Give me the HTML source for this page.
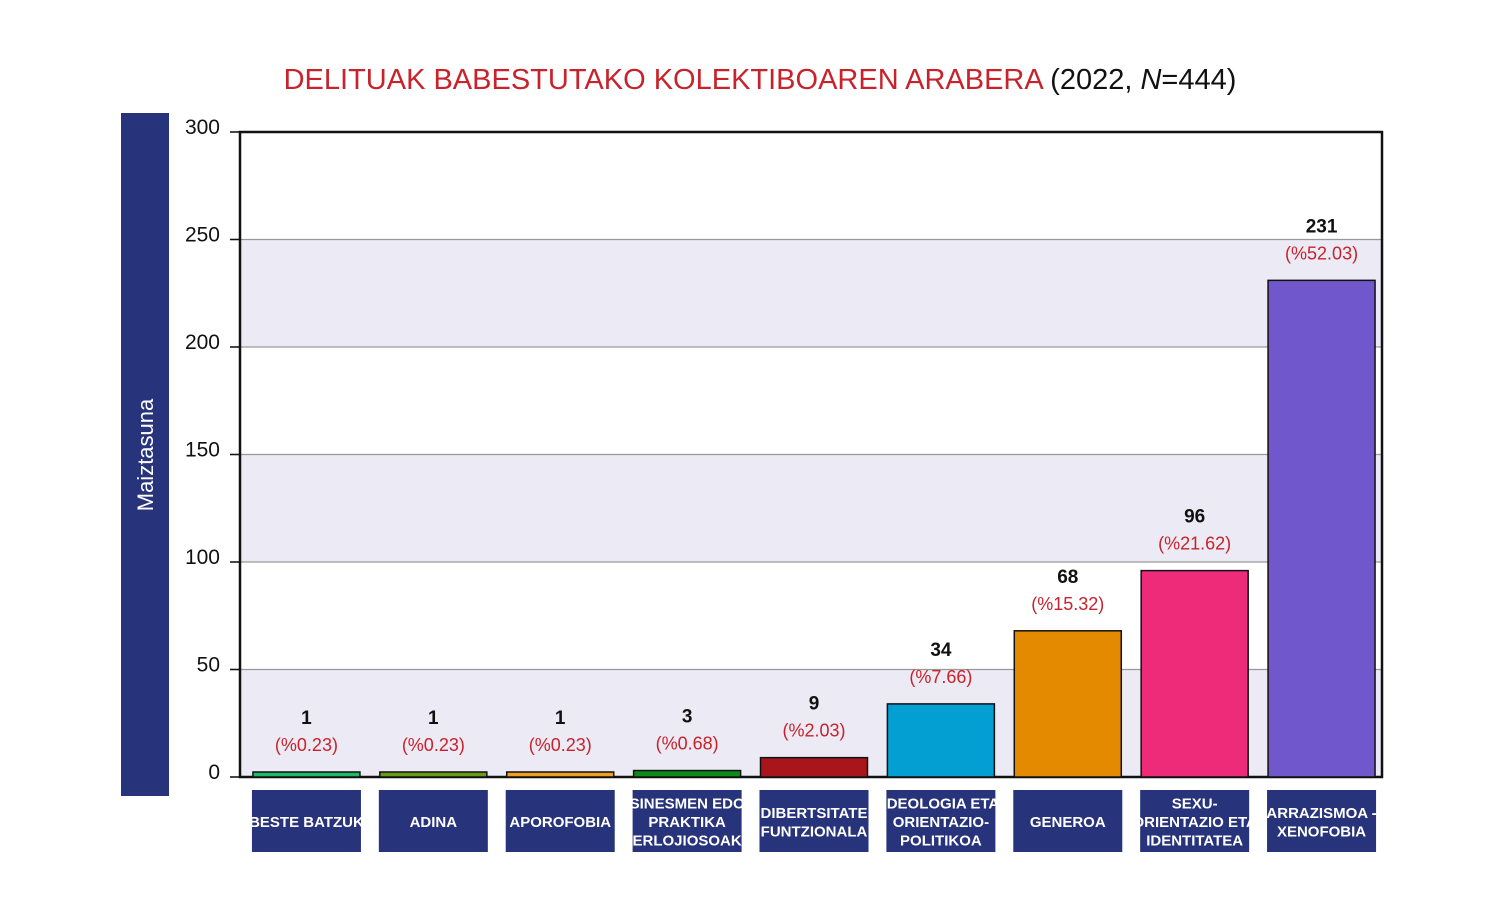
<!DOCTYPE html>
<html><head><meta charset="utf-8"><style>
body{margin:0;background:#fff;width:1500px;height:907px;overflow:hidden;font-family:"Liberation Sans",sans-serif}
</style></head><body>
<svg id="chart" width="1500" height="907" xmlns="http://www.w3.org/2000/svg">
<text x="760" y="89" text-anchor="middle" font-size="29" font-family="Liberation Sans, sans-serif"><tspan fill="#c8232c">DELITUAK BABESTUTAKO KOLEKTIBOAREN ARABERA</tspan><tspan fill="#111"> (2022, <tspan font-style="italic">N</tspan>=444)</tspan></text>
<rect x="121" y="113" width="48" height="683" fill="#27337a"/>
<text transform="translate(153,455) rotate(-90)" text-anchor="middle" fill="#fff" font-size="22" font-family="Liberation Sans Narrow, Liberation Sans, sans-serif">Maiztasuna</text>
<g id="grid"></g><g id="bars"></g><g id="labels"></g>
</svg>
<script>
const categories=["BESTE BATZUK","ADINA","APOROFOBIA","SINESMEN EDO|PRAKTIKA|ERLOJIOSOAK","DIBERTSITATE|FUNTZIONALA","IDEOLOGIA ETA|ORIENTAZIO-|POLITIKOA","GENEROA","SEXU-|ORIENTAZIO ETA|IDENTITATEA","ARRAZISMOA -|XENOFOBIA"];
const values=[1,1,1,3,9,34,68,96,231];
const percents=["(%0.23)","(%0.23)","(%0.23)","(%0.68)","(%2.03)","(%7.66)","(%15.32)","(%21.62)","(%52.03)"];
const colors=["#1fb96a","#6a9a1a","#f0a020","#0d8a1a","#a8151b","#049fd2","#e48a00","#ee2b78","#7157cc"];
const yTicks=[0,50,100,150,200,250,300];
const NS="http://www.w3.org/2000/svg";
const x0=240,x1=1382,yTop=132,yBot=777,yMax=300;
const y=v=>yBot-(v/yMax)*(yBot-yTop);
const step=(x1-x0)/categories.length;
const xc=i=>x0+step*(i+0.5)+3;
function mk(tag,attrs,parent,txt){const e=document.createElementNS(NS,tag);for(const k in attrs)e.setAttribute(k,attrs[k]);if(txt!==undefined)e.textContent=txt;parent.appendChild(e);return e;}
const grid=document.getElementById('grid'),bars=document.getElementById('bars'),labels=document.getElementById('labels');
for(let i=0;i<yTicks.length-1;i++){
  if(i%2===0){const b=mk('rect',{x:x0,y:y(yTicks[i+1]),width:x1-x0,height:y(yTicks[i])-y(yTicks[i+1]),fill:'#ebeaf5'},grid);
  
  }
}
yTicks.forEach(t=>{
  const l=mk('line',{x1:x0-10,x2:x1,y1:y(t),y2:y(t),stroke:'#999','stroke-width':1.2},grid);
  
  
  const tk=mk('line',{x1:x0-10,x2:x0,y1:y(t),y2:y(t),stroke:'#111','stroke-width':1.5},grid);
  
  
  const tx=mk('text',{x:220,y:y(t)+2,'text-anchor':'end','font-size':21,fill:'#111'},grid,String(t));
  
  
});
const frame=mk('rect',{x:x0,y:yTop,width:x1-x0,height:yBot-yTop,fill:'none',stroke:'#111','stroke-width':2.5},grid);


const bw=107;
values.forEach((v,i)=>{
  const top=Math.min(y(v),yBot-5);
  const r=mk('rect',{x:xc(i)-bw/2,y:top,width:bw,height:yBot-top,fill:colors[i],stroke:'#111','stroke-width':1.5},bars);
  
  
  const vt=mk('text',{x:xc(i),y:top-48,'text-anchor':'middle','font-size':19,'font-weight':'bold',fill:'#111'},labels,String(v));
  
  
  const pt=mk('text',{x:xc(i),y:top-21,'text-anchor':'middle','font-size':18,fill:'#c8232c'},labels,percents[i]);
  
  
  const bx=mk('rect',{x:xc(i)-bw/2-1,y:790,width:bw+2,height:62,fill:'#27337a'},labels);
  
  
  const lines=categories[i].split('|');
  const lh=18.5,start=821-(lines.length-1)*lh/2;
  lines.forEach((ln,j)=>{
    const t=mk('text',{x:xc(i),y:start+j*lh+6,'text-anchor':'middle','font-size':15,'font-weight':'bold',fill:'#fff','font-family':'Liberation Sans Narrow, Liberation Sans, sans-serif'},labels,ln);
    
    
  });
});
</script>
</body></html>
